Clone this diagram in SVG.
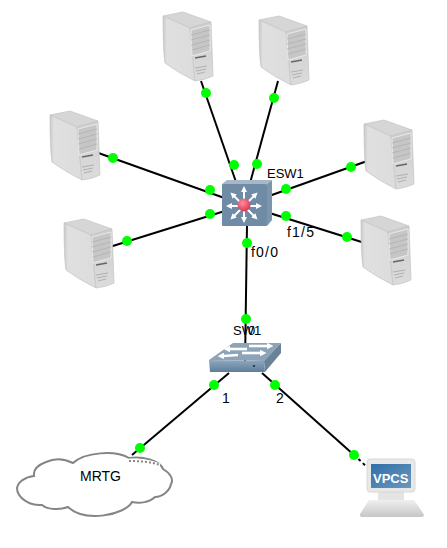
<svg xmlns="http://www.w3.org/2000/svg" width="447" height="548" viewBox="0 0 447 548">
<style>
text{font-family:"Liberation Sans",Arial,sans-serif;font-size:13px;fill:#000}
.l{stroke:#000;stroke-width:2;fill:none}
.d{fill:#0f0}
.n{font-size:14px;letter-spacing:1.2px}
.a{stroke:#fff;stroke-width:2;marker-end:url(#arr)}
.b{stroke:#fff;stroke-width:2.6;marker-end:url(#arr2)}
</style>
<defs>
<linearGradient id="sl" x1="0" y1="0" x2="1" y2="0"><stop offset="0" stop-color="#c8c8c8"/><stop offset=".12" stop-color="#e0e0e0"/><stop offset="1" stop-color="#dcdcdc"/></linearGradient>
<linearGradient id="sf" x1="0" y1="0" x2="0" y2="1"><stop offset="0" stop-color="#cdcdcd"/><stop offset="1" stop-color="#dcdcdc"/></linearGradient>
<linearGradient id="scr" x1="0" y1="0" x2="1" y2="1"><stop offset="0" stop-color="#2f6fa8"/><stop offset="1" stop-color="#6d98bd"/></linearGradient>
<linearGradient id="base" x1="0" y1="0" x2="0" y2="1"><stop offset="0" stop-color="#f0f0f0"/><stop offset="1" stop-color="#c6c6c6"/></linearGradient>
<linearGradient id="swf" x1="0" y1="0" x2="0" y2="1"><stop offset="0" stop-color="#8fa8bf"/><stop offset="1" stop-color="#5f7d99"/></linearGradient>
<radialGradient id="red" cx=".4" cy=".35" r=".7"><stop offset="0" stop-color="#ff8fa0"/><stop offset="1" stop-color="#d8304e"/></radialGradient>
<g id="server">
<polygon points="0,4 20,0 48,10 27,16" fill="#d6d6d6" stroke="#c4c4c4" stroke-width=".7" stroke-linejoin="round"/>
<path d="M0,4 L27,16 L32,69 Q14,60 2,51 Q0,40 0,4 Z" fill="url(#sl)" stroke="#c4c4c4" stroke-width=".7"/>
<path d="M27,16 L48,10 L50,64 Q42,68 32,69 Z" fill="url(#sf)" stroke="#c4c4c4" stroke-width=".7"/>
<polygon points="28,18 47,13 47,39 29,44" fill="#c6c6c6" stroke="#ececec" stroke-width=".9"/>
<path d="M28,23 L47,18 M28,28 L47,23 M28,33 L47,28 M29,38 L47,33" stroke="#adadad" stroke-width=".7" fill="none"/>
<path d="M32,46 L43,44" stroke="#666" stroke-width="1.6"/>
<path d="M32,56 L44,54 M33,59 L43,57 M34,62 L42,60" stroke="#aaa" stroke-width=".9" fill="none"/>
</g>
<marker id="arr" markerWidth="3" markerHeight="3" refX=".5" refY="1.5" orient="auto"><path d="M0,0 L3,1.5 L0,3 Z" fill="#fff"/></marker>
<marker id="arr2" markerWidth="2.6" markerHeight="2.6" refX=".5" refY="1.3" orient="auto"><path d="M0,0 L2.6,1.3 L0,2.6 Z" fill="#fff"/></marker>
</defs>
<g id="connectors">
<path class="l" d="M201,81 L244,205"/>
<path class="l" d="M278,81 L244,205"/>
<path class="l" d="M90,150 L244,205"/>
<path class="l" d="M100,250 L244,205"/>
<path class="l" d="M370,160 L244,205"/>
<path class="l" d="M368,244 L244,205"/>
<path class="l" d="M247,225 L245,365"/>
<path class="l" d="M229,373 L132,455"/>
<path class="l" d="M262,373 L354,455"/>
<path d="M354,455 L367,467" stroke="#000" stroke-width="2" stroke-dasharray="3 3" fill="none"/>
</g>
<g id="PC1"><use href="#server" x="163" y="12"/></g>
<g id="PC2"><use href="#server" x="259" y="16"/></g>
<g id="PC3"><use href="#server" x="50" y="111"/></g>
<g id="PC4"><use href="#server" x="64" y="219"/></g>
<g id="PC5"><use href="#server" x="364" y="120"/></g>
<g id="PC6"><use href="#server" x="361" y="216"/></g>
<g id="ESW1">
<polygon points="222,184 227,180 272,180 267,184" fill="#a6b8c8"/>
<polygon points="267,184 272,180 272,220 267,226" fill="#7d95ab"/>
<rect x="222" y="184" width="45" height="42" rx="1" fill="#6f8ba6"/>
<line class="a" x1="244" y1="206" x2="244" y2="191"/>
<line class="a" x1="244" y1="206" x2="244" y2="218"/>
<line class="a" x1="244" y1="206" x2="231" y2="206"/>
<line class="a" x1="244" y1="206" x2="257" y2="206"/>
<line class="a" x1="244" y1="206" x2="234" y2="196"/>
<line class="a" x1="244" y1="206" x2="254" y2="196"/>
<line class="a" x1="244" y1="206" x2="234" y2="216"/>
<line class="a" x1="244" y1="206" x2="254" y2="216"/>
<circle cx="244" cy="205" r="6.5" fill="url(#red)"/>
<text x="267" y="178">ESW1</text>
</g>
<g id="SW1">
<polygon points="209,360 233,343 281,343 264,361" fill="#8da3b7"/>
<polygon points="264,361 281,343 281,353 265,372" fill="#6a8298"/>
<path d="M209,360 L264,361 L265,372 L210,372 Z" fill="url(#swf)"/>
<line class="b" x1="247" y1="349" x2="229" y2="349"/>
<line class="b" x1="249" y1="346" x2="268" y2="346"/>
<line class="b" x1="238" y1="355" x2="223" y2="356"/>
<line class="b" x1="242" y1="353" x2="261" y2="353"/>
<circle cx="254" cy="366" r="1" fill="#123"/>
<text x="233" y="335">SW1</text>
<text x="248" y="335">0</text>
</g>
<g id="MRTG">
<path d="M73,463 C85,452 115,450 129,458 C142,456 160,460 163,469 C170,473 174,479 171,484 C170,490 163,497 155,497 C150,502 140,504 132,502 C125,515 85,523 68,507 C60,510 48,510 42,505 C30,506 17,498 17,488 C18,482 25,477 34,476 C33,470 38,465 46,462 C55,458 65,459 73,463 Z" fill="#fff" stroke="#858585" stroke-width="2"/>
<path d="M129,460 C140,460 152,462 160,465" stroke="#fff" stroke-width="3" fill="none"/>
<path d="M129,461 C140,461 152,462 160,465" stroke="#888" stroke-width="2" stroke-dasharray="2 2" fill="none"/>
<text x="80" y="481" style="font-size:14px">MRTG</text>
</g>
<g id="VPCS">
<path d="M369,500 L414,500 Q420,508 424,515 Q424,517 420,517 L362,517 Q359,517 360,514 Z" fill="url(#base)"/>
<rect x="378" y="490" width="26" height="10" fill="#e4e4e4"/>
<rect x="367" y="459" width="48" height="33" rx="3" fill="#e8e8e8" stroke="#d8d8d8"/>
<rect x="371" y="464" width="40" height="24" fill="url(#scr)"/>
<text x="373" y="483" style="font-size:13px;font-weight:bold;fill:#fff">VPCS</text>
</g>
<g id="labels">
<text class="n" x="287" y="237">f1/5</text>
<text class="n" x="251" y="257">f0/0</text>
<text x="222" y="403" style="font-size:14px">1</text>
<text x="276" y="403" style="font-size:14px">2</text>
</g>
<g id="ports">
<circle class="d" cx="206" cy="93" r="5"/>
<circle class="d" cx="234" cy="165" r="5"/>
<circle class="d" cx="274" cy="98" r="5"/>
<circle class="d" cx="257" cy="164" r="5"/>
<circle class="d" cx="113" cy="158" r="5"/>
<circle class="d" cx="210" cy="190" r="5"/>
<circle class="d" cx="127" cy="241" r="5"/>
<circle class="d" cx="210" cy="214" r="5"/>
<circle class="d" cx="351" cy="167" r="5"/>
<circle class="d" cx="286" cy="189" r="5"/>
<circle class="d" cx="347" cy="237" r="5"/>
<circle class="d" cx="286" cy="216" r="5"/>
<circle class="d" cx="247" cy="243" r="5"/>
<circle class="d" cx="246" cy="319" r="5"/>
<circle class="d" cx="214" cy="385" r="5"/>
<circle class="d" cx="275" cy="385" r="5"/>
<circle class="d" cx="140" cy="448" r="5"/>
<circle class="d" cx="354" cy="455" r="5"/>
</g>
</svg>
